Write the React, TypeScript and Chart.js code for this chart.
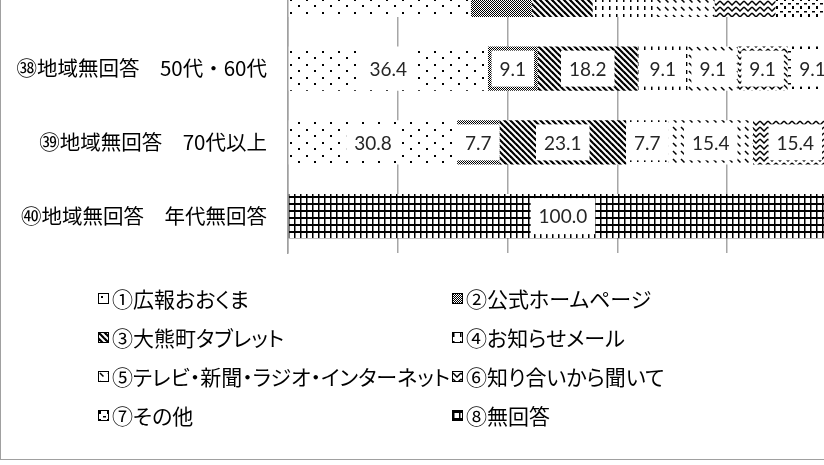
import React, { useEffect, useMemo, useRef } from "react";
import { Chart, registerables } from "chart.js";

Chart.register(...registerables);

// ---- data ----
const categories = [
  "㊲地域無回答　40代以下",
  "㊳地域無回答　50代・60代",
  "㊴地域無回答　70代以上",
  "㊵地域無回答　年代無回答",
];
const seriesNames = [
  "①広報おおくま",
  "②公式ホームページ",
  "③大熊町タブレット",
  "④お知らせメール",
  "⑤テレビ・新聞・ラジオ・インターネット",
  "⑥知り合いから聞いて",
  "⑦その他",
  "⑧無回答",
];
const s1 = [33.3, 36.4, 30.8, 0];
const s2 = [11.1, 9.1, 7.7, 0];
const s3 = [11.1, 18.2, 23.1, 0];
const s4 = [11.1, 9.1, 7.7, 0];
const s5 = [11.1, 9.1, 15.4, 0];
const s6 = [11.1, 9.1, 15.4, 0];
const s7 = [11.1, 9.1, 0, 0];
const s8 = [0, 0, 0, 100.0];
const seriesValues = [s1, s2, s3, s4, s5, s6, s7, s8];
const xTickValues = [0, 20, 40, 60, 80, 100];
const firstLabeledRow = 1; // top row is cut off by the frame: its texts fall outside

// ---- pattern tiles (black on white) ----
function makeTile(kind: number): HTMLCanvasElement {
  const c = document.createElement("canvas");
  let w = 8,
    h = 8;
  if (kind === 0) { w = 16; h = 13; }
  if (kind === 1) { w = 4; h = 4; }
  if (kind === 2) { w = 6; h = 6; }
  if (kind === 3) { w = 7; h = 8; }
  if (kind === 5) { w = 8; h = 6; }
  if (kind === 7) { w = 6; h = 7; }
  c.width = w;
  c.height = h;
  const g = c.getContext("2d")!;
  g.fillStyle = "#fff";
  g.fillRect(0, 0, w, h);
  g.fillStyle = "#000";
  g.strokeStyle = "#000";
  switch (kind) {
    case 0:
      g.fillRect(2, 2, 2, 2);
      g.fillRect(10, 8, 2, 2);
      break;
    case 1:
      g.fillRect(0, 0, 1, 1);
      g.fillRect(2, 0, 1, 1);
      g.fillRect(1, 1, 1, 1);
      g.fillRect(3, 1, 1, 1);
      g.fillRect(0, 2, 1, 1);
      g.fillRect(2, 2, 1, 1);
      g.fillRect(1, 3, 1, 1);
      g.fillRect(3, 3, 1, 1);
      break;
    case 2:
      g.lineWidth = 2.2;
      for (const k of [-w, 0, w]) {
        g.beginPath();
        g.moveTo(k - 1, -1);
        g.lineTo(k + w + 1, h + 1);
        g.stroke();
      }
      break;
    case 3:
      g.fillRect(0, 0, 1.5, 4);
      break;
    case 4:
      g.lineWidth = 1.5;
      g.beginPath();
      g.moveTo(1, 1);
      g.lineTo(4.5, 4.5);
      g.stroke();
      break;
    case 5:
      g.lineWidth = 1.5;
      g.beginPath();
      g.moveTo(0, 1);
      g.lineTo(4, 5);
      g.lineTo(8, 1);
      g.stroke();
      break;
    case 6:
      g.fillRect(0, 0, 2, 3);
      g.fillRect(4, 5, 3, 1.5);
      break;
    case 7:
      g.fillRect(0, 0, w, 2);
      g.fillRect(0, 0, 1.5, h);
      break;
  }
  return c;
}

const labelPlugin = {
  id: "boxLabels",
  afterDatasetsDraw(chart: any) {
    const ctx = chart.ctx as CanvasRenderingContext2D;
    ctx.save();
    ctx.font = '19px Lato, "Liberation Sans", sans-serif';
    ctx.textAlign = "center";
    ctx.textBaseline = "middle";
    chart.data.datasets.forEach((ds: any, di: number) => {
      const meta = chart.getDatasetMeta(di);
      meta.data.forEach((bar: any, i: number) => {
        if (i < firstLabeledRow) return;
        const v = ds.data[i] as number;
        if (!v) return;
        const { x, y, base } = bar.getProps(["x", "y", "base"], true);
        const cx = (x + base) / 2;
        const text = v.toFixed(1);
        const w = ctx.measureText(text).width + 16;
        const h = 36;
        ctx.fillStyle = "#fff";
        ctx.fillRect(cx - w / 2, y - h / 2, w, h);
        ctx.fillStyle = "#262626";
        ctx.fillText(text, cx, y + 1);
      });
    });
    ctx.restore();
  },
};

const CANVAS_W = 837;
const CANVAS_H = 507;
const CANVAS_TOP = -42;
const legendCols = [98, 452];
const legendRows = [298, 337, 376, 415];

export default function App() {
  const ref = useRef<HTMLCanvasElement | null>(null);
  const tiles = useMemo(() => seriesNames.map((_, i) => makeTile(i)), []);
  const urls = useMemo(() => tiles.map((t) => t.toDataURL()), [tiles]);

  useEffect(() => {
    const canvas = ref.current;
    if (!canvas) return;
    const ctx = canvas.getContext("2d")!;
    const patterns = tiles.map((t) => ctx.createPattern(t, "repeat"));
    const chart = new Chart(canvas, {
      type: "bar",
      data: {
        labels: categories,
        datasets: seriesNames.map((name, i) => ({
          label: name,
          data: seriesValues[i],
          backgroundColor: patterns[i] as any,
          borderWidth: 0,
          categoryPercentage: 1,
          barPercentage: 0.6,
        })),
      },
      options: {
        indexAxis: "y",
        animation: false,
        responsive: false,
        maintainAspectRatio: false,
        layout: { padding: { top: 0, right: 0, bottom: 212, left: 0 } },
        plugins: {
          legend: { display: false },
          tooltip: { enabled: false },
        },
        scales: {
          x: {
            stacked: true,
            min: 0,
            max: 100,
            afterBuildTicks: (s: any) => {
              s.ticks = xTickValues.map((v) => ({ value: v }));
            },
            ticks: { display: false },
            grid: { color: "#a6a6a6", lineWidth: 1.5, drawTicks: false },
            border: { display: false },
            afterFit: (s: any) => {
              s.height = 0;
              s.paddingLeft = 0;
              s.paddingRight = 0;
              s.paddingTop = 0;
              s.paddingBottom = 0;
            },
          },
          y: {
            stacked: true,
            ticks: {
              color: "#000",
              padding: 21,
              autoSkip: false,
              font: { family: '"Noto Sans CJK JP", sans-serif', size: 20.5 },
              callback: (_v: any, idx: number) => (idx < firstLabeledRow ? "" : categories[idx]),
            },
            grid: { display: false, drawTicks: false },
            border: { display: true, color: "#a0a0a0", width: 1.5 },
            afterFit: (s: any) => {
              s.width = 288;
              s.paddingTop = 0;
              s.paddingBottom = 0;
              s.paddingLeft = 0;
              s.paddingRight = 0;
            },
          },
        },
      } as any,
      plugins: [labelPlugin],
    });
    return () => chart.destroy();
  }, [tiles]);

  return (
    <div
      style={{
        position: "fixed",
        left: 0,
        top: 0,
        width: 824,
        height: 465,
        overflow: "hidden",
        background: "#fff",
      }}
    >
      <canvas
        ref={ref}
        width={CANVAS_W}
        height={CANVAS_H}
        style={{ position: "absolute", left: 0, top: CANVAS_TOP, width: CANVAS_W, height: CANVAS_H }}
      />
      <div
        style={{
          position: "absolute",
          left: 0,
          top: -10,
          width: 900,
          height: 470,
          borderLeft: "1px solid #a0a0a0",
          borderBottom: "1px solid #a0a0a0",
          boxSizing: "border-box",
          pointerEvents: "none",
        }}
      />
      {seriesNames.map((name, i) => (
        <div
          key={name}
          style={{
            position: "absolute",
            left: legendCols[i % 2],
            top: legendRows[Math.floor(i / 2)] - 15,
            height: 30,
            display: "flex",
            alignItems: "center",
            whiteSpace: "nowrap",
            fontFamily: '"Noto Sans CJK JP", sans-serif',
            fontSize: 21,
            fontFeatureSettings: '"palt"',
            color: "#000",
          }}
        >
          <span
            style={{
              display: "inline-block",
              width: 11,
              height: 11,
              border: "1.5px solid #000",
              boxSizing: "border-box",
              backgroundImage: `url(${urls[i]})`,
              marginRight: 3,
            }}
          />
          <span>{name}</span>
        </div>
      ))}
    </div>
  );
}
